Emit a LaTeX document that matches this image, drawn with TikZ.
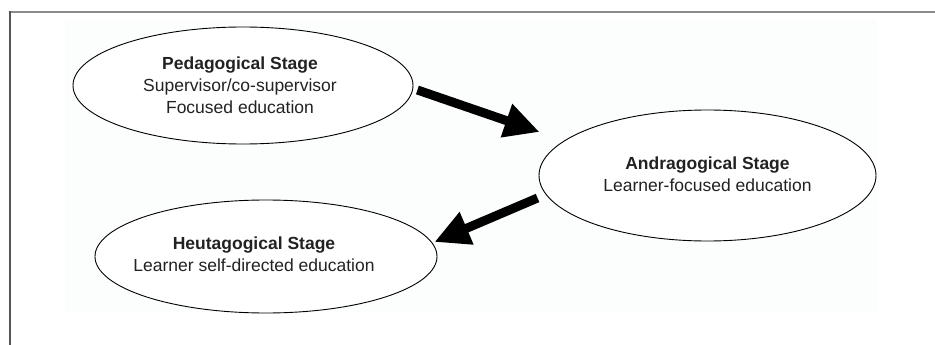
\documentclass[tikz,border=0pt]{standalone}
\usepackage{fontspec}
\setmainfont{Liberation Sans}
\usetikzlibrary{shapes.geometric,arrows.meta}
\definecolor{framegray}{HTML}{8C8C8C}
\definecolor{leftgray}{HTML}{555555}
\definecolor{bgtint}{HTML}{FCFDFD}
\definecolor{txt}{HTML}{222222}
\tikzset{
  stage/.style={ellipse, draw=black, line width=0.9pt, fill=white, inner sep=0pt},
  stagetext/.style={align=center, text=txt, inner sep=0pt,
    font=\fontsize{17.5}{22}\selectfont},
  bigarrow/.style={line width=9pt, -{Triangle[length=35pt,width=33pt]}, black},
}
\begin{document}
\begin{tikzpicture}[x=1pt,y=-1pt]
\useasboundingbox (0,0) rectangle (935,345);
\fill[bgtint] (65,20) rectangle (877,313);
\draw[framegray, line width=2pt] (10,12) -- (935,12);
\draw[leftgray, line width=1.4pt] (10,11) -- (10,345);

\node[stage, minimum width=340pt, minimum height=117pt] (p) at (243,85.5) {};
\node[stage, minimum width=337pt, minimum height=131pt] (a) at (707.5,175.5) {};
\node[stage, minimum width=342pt, minimum height=113pt] (h) at (266,256.5) {};

\node[stagetext] (pt) at ([shift={(-3,0)}]p.center) {\textbf{Pedagogical Stage}\\Supervisor/co-supervisor\\Focused education};
\node[stagetext] (at) at ([shift={(0,-1.5)}]a.center) {\textbf{Andragogical Stage}\\Learner-focused education};
\node[stagetext] (ht) at ([shift={(-12,-2)}]h.center) {\textbf{Heutagogical Stage}\\Learner self-directed education};

\draw[bigarrow] ([shift={(4,4.5)}]p.east) -- ([shift={(1,-43.5)}]a.west);
\draw[bigarrow] ([shift={(-1,22.5)}]a.west) -- ([shift={(-3,-14.5)}]h.east);
\end{tikzpicture}
\end{document}
